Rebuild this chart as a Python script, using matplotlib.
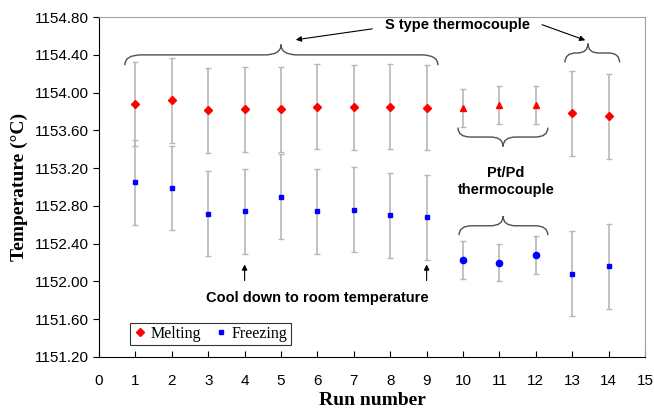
import numpy as np
import matplotlib.pyplot as plt
from matplotlib.path import Path
from matplotlib.patches import PathPatch

# S type thermocouple runs
runs_s = [1, 2, 3, 4, 5, 6, 7, 8, 9, 13, 14]
melt_s = [1153.88, 1153.92, 1153.815, 1153.825, 1153.825, 1153.85, 1153.845,
          1153.85, 1153.84, 1153.78, 1153.75]
freeze_s = [1153.05, 1152.99, 1152.72, 1152.745, 1152.90, 1152.745, 1152.76,
            1152.70, 1152.68, 1152.08, 1152.16]
err_s = [0.45] * len(runs_s)

# Pt/Pd thermocouple runs
runs_p = [10, 11, 12]
melt_p = [1153.835, 1153.87, 1153.87]
freeze_p = [1152.23, 1152.20, 1152.28]
err_p = [0.2, 0.2, 0.2]

sans = 'Liberation Sans'
serif = 'Liberation Serif'

fig = plt.figure(figsize=(6.54, 4.08), dpi=100)
ax = fig.add_axes([0.1514, 0.125, 0.8349, 0.833])

ebkw = dict(ecolor='#b8b8b8', elinewidth=1.2, capsize=2.5, capthick=1, linestyle='none')
ax.errorbar(runs_s, melt_s, yerr=err_s, marker='D', ms=4, color='red', mec='red', **ebkw)
ax.errorbar(runs_s, freeze_s, yerr=err_s, marker='s', ms=3, color='blue', mec='blue', **ebkw)
ax.errorbar(runs_p, melt_p, yerr=err_p, marker='^', ms=5, color='red', mec='red', **ebkw)
ax.errorbar(runs_p, freeze_p, yerr=err_p, marker='o', ms=4.5, color='blue', mec='blue', **ebkw)

ax.set_xlim(0, 15)
ax.set_ylim(1151.2, 1154.8)
ax.set_xticks(range(16))
ax.set_yticks(np.arange(1151.2, 1154.81, 0.4))
ax.set_yticklabels(['%.2f' % v for v in np.arange(1151.2, 1154.81, 0.4)])
for lab in ax.get_xticklabels() + ax.get_yticklabels():
    lab.set_fontfamily(sans)
    lab.set_fontsize(11)
ax.tick_params(axis='x', direction='in', length=4, pad=12)
ax.tick_params(axis='y', direction='out', length=4)
ax.spines['top'].set_color('#a0a0a0')
ax.spines['right'].set_color('#a0a0a0')

ax.set_xlabel('Run number', family=serif, fontsize=14, fontweight='bold', labelpad=3)
ax.set_ylabel('Temperature (°C)', family=serif, fontsize=14, fontweight='bold', labelpad=5)


def brace(x0, x1, xm, y, d, w):
    # horizontal curly brace, tip at xm, d>0 tip up
    verts = [(x0, y - d), (x0, y), (x0 + w, y),
             (xm - w, y), (xm, y), (xm, y + d),
             (xm, y), (xm + w, y),
             (x1 - w, y), (x1, y), (x1, y - d)]
    codes = [Path.MOVETO, Path.CURVE3, Path.CURVE3,
             Path.LINETO, Path.CURVE3, Path.CURVE3,
             Path.CURVE3, Path.CURVE3,
             Path.LINETO, Path.CURVE3, Path.CURVE3]
    ax.add_patch(PathPatch(Path(verts, codes), fc='none', ec='#505050', lw=1))


brace(0.71, 9.31, 5.0, 1154.40, 0.11, 0.45)
brace(12.8, 14.3, 13.43, 1154.42, 0.1, 0.3)
brace(9.86, 12.33, 11.1, 1153.53, -0.1, 0.35)
brace(9.89, 12.33, 11.1, 1152.59, 0.1, 0.35)

ax.text(9.86, 1154.715, 'S type thermocouple', family=sans, fontsize=10.5,
        fontweight='bold', ha='center', va='center')
ax.annotate('', xy=(5.33, 1154.556), xytext=(7.58, 1154.68),
            arrowprops=dict(arrowstyle='-|>', color='black', lw=0.8, mutation_scale=8))
ax.annotate('', xy=(13.43, 1154.545), xytext=(12.1, 1154.73),
            arrowprops=dict(arrowstyle='-|>', color='black', lw=0.8, mutation_scale=8))

ax.text(11.18, 1153.06, 'Pt/Pd\nthermocouple', family=sans, fontsize=10.5,
        fontweight='bold', ha='center', va='center', linespacing=1.3)

ax.text(6.0, 1151.82, 'Cool down to room temperature', family=sans, fontsize=10.5,
        fontweight='bold', ha='center', va='center')
for xa in [4, 9]:
    ax.annotate('', xy=(xa, 1152.21), xytext=(xa, 1151.98),
                arrowprops=dict(arrowstyle='-|>', color='black', lw=0.8, mutation_scale=8))

h1 = plt.Line2D([], [], marker='D', ms=4, color='red', ls='none')
h2 = plt.Line2D([], [], marker='s', ms=3, color='blue', ls='none')
leg = ax.legend([h1, h2], ['Melting', 'Freezing'], loc='lower left', ncol=2,
                bbox_to_anchor=(0.057, 0.035), prop={'family': serif, 'size': 11.5},
                frameon=True, fancybox=False, handlelength=0.8, handletextpad=0.3,
                columnspacing=0.8, borderpad=0.2, borderaxespad=0)
leg.get_frame().set_edgecolor('black')
leg.get_frame().set_linewidth(0.8)

fig.savefig('out.png', dpi=100)
